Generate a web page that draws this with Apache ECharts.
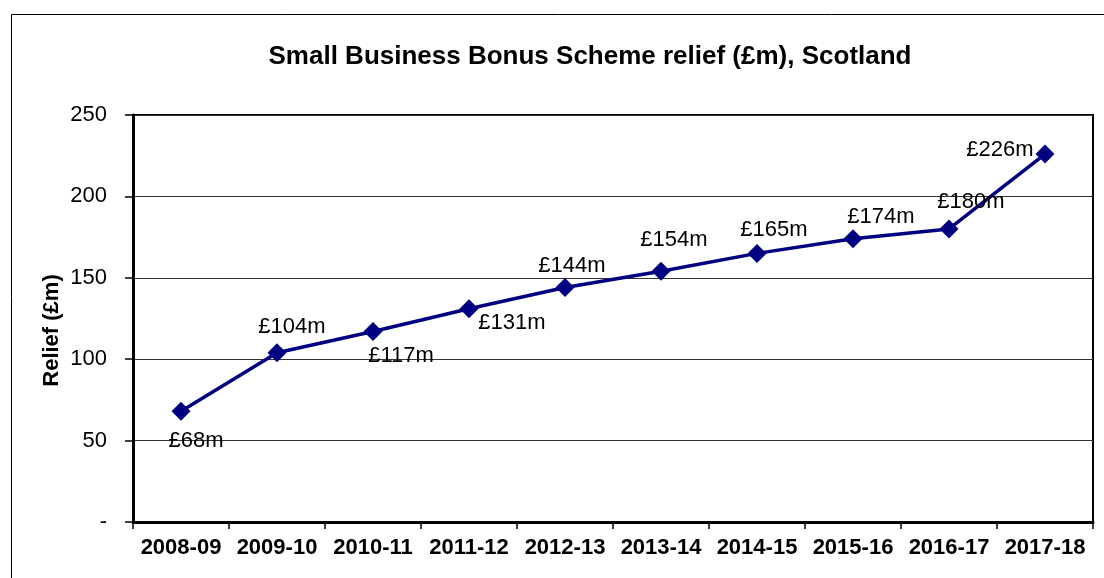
<!DOCTYPE html>
<html>
<head>
<meta charset="utf-8">
<script src="https://cdn.jsdelivr.net/npm/echarts@6/dist/echarts.min.js"></script>
<style>
html,body{margin:0;padding:0;background:#fff;}
#chart{width:1104px;height:578px;}
</style>
</head>
<body>
<div id="chart"></div>
<script>
const categories = ['2008-09','2009-10','2010-11','2011-12','2012-13','2013-14','2014-15','2015-16','2016-17','2017-18'];
const reliefValues = [68,104,117,131,144,154,165,174,180,226];
const yTickLabels = ['-','50','100','150','200','250'];
const titleText = 'Small Business Bonus Scheme relief (£m), Scotland';
const yAxisTitle = 'Relief (£m)';

// label offsets per point (styling, not data)
const labelOffsets = [[15,30],[15,-26],[28,24],[43,14],[7,-22],[13,-31],[17,-23],[28,-22],[22,-27],[-45,-4]];

const FONT = '"Liberation Sans", Arial, sans-serif';
const chart = echarts.init(document.getElementById('chart'));

const seriesData = reliefValues.map((v, i) => ({
  value: v,
  label: { offset: labelOffsets[i] }
}));

chart.setOption({
  animation: false,
  backgroundColor: '#fff',
  graphic: [{
    type: 'rect',
    shape: { x: 11.5, y: 14.5, width: 1120, height: 600 },
    style: { fill: 'none', stroke: '#000', lineWidth: 1 },
    silent: true, z: -1
  }],
  title: {
    text: titleText,
    left: 585, top: 52, textAlign: 'center', textVerticalAlign: 'middle',
    textStyle: { fontFamily: FONT, fontSize: 26, fontWeight: 'bold', color: '#000' }
  },
  grid: {
    left: 133, right: 11, top: 115, bottom: 56,
    show: true, borderColor: '#000', borderWidth: 2, backgroundColor: 'transparent'
  },
  xAxis: {
    type: 'category',
    data: categories,
    boundaryGap: true,
    axisLine: { show: true, lineStyle: { color: '#000', width: 3 } },
    axisTick: { show: true, inside: false, length: 7, lineStyle: { color: '#000', width: 1.5 }, alignWithLabel: false },
    axisLabel: { interval: 0, margin: 15, fontFamily: FONT, fontSize: 22, fontWeight: 'bold', color: '#000' },
    splitLine: { show: false }
  },
  yAxis: {
    type: 'value',
    min: 0, max: 250, interval: 50,
    name: yAxisTitle,
    nameLocation: 'middle',
    nameGap: 70,
    nameMoveOverlap: false,
    nameTextStyle: { fontFamily: FONT, fontSize: 22, fontWeight: 'bold', color: '#000', padding: [0,0,0,-24] },
    axisLine: { show: true, lineStyle: { color: '#000', width: 3 } },
    axisTick: { show: true, inside: false, length: 8, lineStyle: { color: '#000', width: 1.5 } },
    axisLabel: {
      margin: 26, fontFamily: FONT, fontSize: 22, color: '#000',
      formatter: function (v) { return yTickLabels[Math.round(v / 50)]; }
    },
    splitLine: { show: true, lineStyle: { color: '#333', width: 1.2 } }
  },
  series: [{
    type: 'line',
    data: seriesData,
    symbol: 'diamond',
    symbolSize: [19, 19],
    lineStyle: { color: '#000080', width: 3.5 },
    itemStyle: { color: '#000080' },
    label: {
      show: true,
      position: 'inside',
      align: 'center',
      verticalAlign: 'middle',
      fontFamily: FONT, fontSize: 22, color: '#000',
      formatter: function (p) { return '£' + p.value + 'm'; }
    },
    z: 5
  }]
});
</script>
</body>
</html>
